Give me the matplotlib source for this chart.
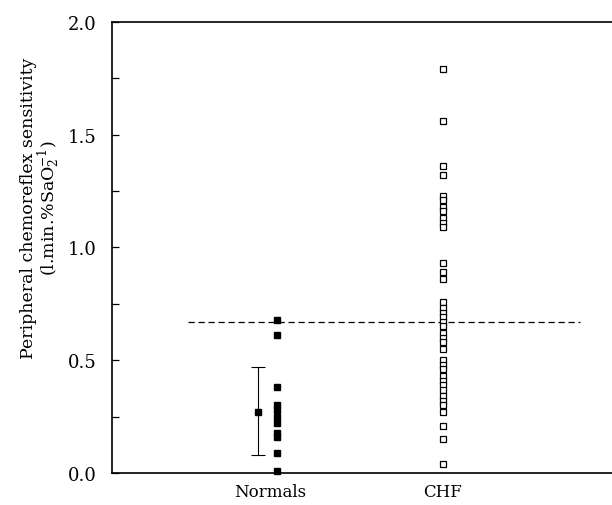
import numpy as np
import matplotlib
matplotlib.use("Agg")
import matplotlib.pyplot as plt

plt.rcParams['font.family'] = 'DejaVu Serif'
plt.rcParams['mathtext.fontset'] = 'dejavuserif'

# values (l.min.%SaO2^-1)
normals = [0.68, 0.61, 0.38, 0.30, 0.28, 0.25, 0.22, 0.18, 0.16, 0.09, 0.01]
normals_mean = 0.27
normals_low = 0.08
normals_high = 0.47
chf = [1.79, 1.56, 1.36, 1.32, 1.23, 1.21, 1.18, 1.16, 1.13, 1.11, 1.09,
       0.93, 0.89, 0.86, 0.76, 0.73, 0.71, 0.69, 0.67, 0.65, 0.62, 0.60,
       0.58, 0.55, 0.50, 0.48, 0.46, 0.43, 0.41, 0.39, 0.37, 0.34, 0.32,
       0.30, 0.27, 0.21, 0.15, 0.04]
threshold = 0.67
groups = ["Normals", "CHF"]

fig = plt.figure(figsize=(6.12, 5.06), dpi=100)
ax = fig.add_axes([0.183, 0.063, 0.817, 0.892])

x_norm, x_chf, x_mean = 1.65, 3.31, 1.46

ax.plot([x_norm] * len(normals), normals, 's', color='black', ms=4.5,
        clip_on=False, zorder=3)
ax.errorbar([x_mean], [normals_mean],
            yerr=[[normals_mean - normals_low], [normals_high - normals_mean]],
            fmt='s', color='black', ms=4.5, elinewidth=0.8, capsize=5,
            capthick=0.8)
ax.plot([x_chf] * len(chf), chf, 's', mfc='white', mec='black', ms=4.8,
        mew=0.9, clip_on=False, zorder=3)
ax.plot([0.76, 4.68], [threshold, threshold], color='black', lw=0.9,
        dashes=(5, 3))

ax.set_xlim(0, 5)
ax.set_ylim(0, 2.0)
ax.set_yticks([0, 0.5, 1.0, 1.5, 2.0])
ax.set_yticklabels(["0.0", "0.5", "1.0", "1.5", "2.0"], fontsize=13)
ax.set_yticks([0.25, 0.75, 1.25, 1.75], minor=True)
ax.tick_params(axis='y', which='both', direction='in', length=5, width=0.9,
               pad=11)
ax.set_xticks([1.58, 3.31])
ax.set_xticklabels(groups, fontsize=12)
ax.tick_params(axis='x', length=0, pad=7)

ax.spines['right'].set_visible(False)
for s in ['left', 'top', 'bottom']:
    ax.spines[s].set_linewidth(1.2)

ax.set_ylabel("Peripheral chemoreflex sensitivity\n(l.min.%SaO$_2^{-1}$)",
              fontsize=12.5, linespacing=0.95)
ax.yaxis.set_label_coords(-0.1, 0.59)

fig.savefig("out.png", dpi=100)
